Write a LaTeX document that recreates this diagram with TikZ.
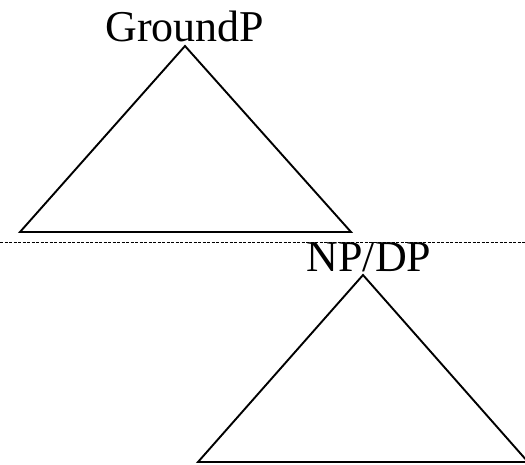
\documentclass[tikz,border=0pt]{standalone}
\usepackage{fontspec}
\setmainfont{Liberation Serif}
\usetikzlibrary{positioning}

\begin{document}
\begin{tikzpicture}[
      x=1pt, y=-1pt,
      cat/.style={inner sep=0pt, anchor=base,
                  font=\fontsize{44}{53}\selectfont},
      roof/.style={line width=1.9pt, line join=miter},
      cut/.style={line width=0.7pt, dash pattern=on 3pt off 1.5pt},
    ]
    \useasboundingbox (0,0) rectangle (525,465);
    \clip (0,0) rectangle (525,465);

    % --- labels ---
    \node[cat] (groundp) at (185,42) {GroundP};
    \node[cat] (npdp) at (369,272) {NP/DP};

    % --- roofs ---
    \coordinate (g top) at (185,46);
    \coordinate (g left) at (20,232);
    \coordinate (g right) at (351,232);
    \draw[roof] (g top) -- (g left) -- (g right) -- cycle;

    \coordinate (n top) at (363,275);
    \coordinate (n left) at (198,462);
    \coordinate (n right) at (528,462);
    \draw[roof] (n top) -- (n left) -- (n right) -- cycle;

    % --- boundary ---
    \coordinate (cut l) at (0,242);
    \coordinate (cut r) at (525,242);
    \draw[cut] (cut l) -- (cut r);
  \end{tikzpicture}
\end{document}
